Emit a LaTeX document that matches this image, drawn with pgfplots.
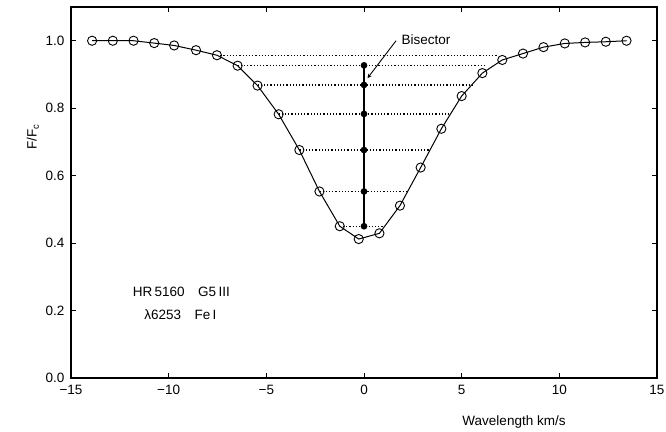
\documentclass[border=0pt]{standalone}
\usepackage{fontspec}
\setmainfont{Liberation Sans}
\usepackage{pgfplots}
\pgfplotsset{compat=1.18}

\begin{document}
\begin{tikzpicture}[font=\fontsize{13.5}{15}\selectfont]
\begin{axis}[
    scale only axis,
    width=586pt, height=371pt,
    xmin=-15, xmax=15, ymin=0, ymax=1.1,
    xtick={-15,-10,...,15},
    xticklabels={−15,−10,−5,0,5,10,15},
    ytick={0,0.2,...,1.0},
    yticklabels={0.0,0.2,0.4,0.6,0.8,1.0},
    tick align=inside,
    major tick length=5pt,
    tick style={line width=1pt, black},
    axis line style={line width=1.4pt},
    xticklabel style={yshift=-4pt},
    yticklabel style={xshift=-3pt},
    clip=false,
    cut/.style={black, line width=1.2pt, dash pattern=on 1.2pt off 2pt},
]
% line profile
\addplot[black, line width=1pt, mark=o, mark size=4.6pt,
         mark options={line width=0.9pt}] coordinates {
    (-13.92,1.000) (-12.86,1.000) (-11.80,1.000) (-10.74,0.993)
    (-9.72,0.986) (-8.60,0.972) (-7.53,0.957) (-6.47,0.926)
    (-5.45,0.867) (-4.37,0.782) (-3.31,0.676) (-2.28,0.553)
    (-1.24,0.450) (-0.27,0.412) (0.79,0.429) (1.84,0.511)
    (2.90,0.624) (3.96,0.739) (5.00,0.836) (6.06,0.904)
    (7.08,0.943) (8.14,0.962) (9.19,0.981) (10.28,0.992)
    (11.32,0.995) (12.38,0.997) (13.44,1.000)
};
% level cuts
\addplot[cut] coordinates {(-7.53,0.957) (6.80,0.957)};
\addplot[cut] coordinates {(-6.47,0.927) (6.30,0.927)};
\addplot[cut] coordinates {(-5.45,0.869) (5.55,0.869)};
\addplot[cut] coordinates {(-4.37,0.783) (4.45,0.783)};
\addplot[cut] coordinates {(-3.31,0.676) (3.35,0.676)};
\addplot[cut] coordinates {(-2.28,0.553) (2.20,0.553)};
\addplot[cut] coordinates {(-1.24,0.450) (0.95,0.450)};
% bisector
\addplot[black, line width=1.8pt, mark=*, mark size=2.4pt] coordinates {
    (0,0.450) (0,0.553) (0,0.676) (0,0.783) (0,0.869) (0,0.927)
};
\draw[-stealth, line width=0.9pt] (axis cs:1.64,1.0) -- (axis cs:0.18,0.889);
\node[anchor=west] at (axis cs:1.75,1.004) {Bisector};
\node at (axis cs:-9.35,0.255) {HR\,5160\quad G5\,III};
\node at (axis cs:-9.4,0.187) {λ6253\quad Fe\,I};
\node[rotate=90] at (rel axis cs:-0.065,0.65) {F/F\textsubscript{c}};
\node at (rel axis cs:0.756,-0.118) {Wavelength km/s};
\coordinate (bl) at (rel axis cs:-0.1212,-0.1429);
\coordinate (tr) at (rel axis cs:1.0154,1.0189);
\end{axis}
\pgfresetboundingbox
\useasboundingbox (bl) rectangle (tr);
\end{tikzpicture}
\end{document}
